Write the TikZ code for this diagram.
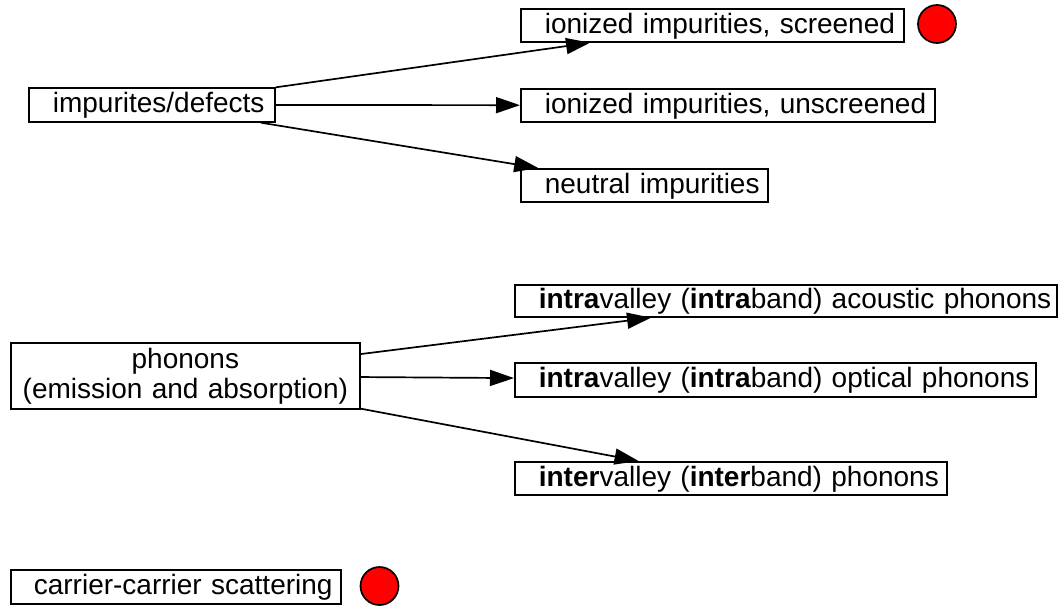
\documentclass[tikz,border=0pt]{standalone}
\usepackage{fontspec}
\setmainfont{Liberation Sans}
\usetikzlibrary{arrows.meta}
\begin{document}
\begin{tikzpicture}[x=1pt,y=-1pt,
  every node/.style={font=\fontsize{28}{30}\selectfont},
  frame/.style={draw, line width=1.7pt, inner sep=0pt, anchor=north west},
  onerow/.style={frame, align=left, text height=20pt, text depth=4pt,
    minimum width=#1, text width=#1, minimum height=33pt},
  flow/.style={line width=1.7pt, -{Triangle[length=24pt,width=16pt]}},
  marker/.style={circle, draw, line width=1.7pt, fill=red,
    minimum size=38pt, inner sep=0pt}]
\useasboundingbox (0,0) rectangle (1058,606);

% impurity scattering
\node[onerow=246pt, minimum height=34pt] (imp) at (28,87) {\hspace*{24pt}impurites/defects};
\node[onerow=383pt] (scr) at (520,8) {\hspace*{24pt}ionized impurities, screened};
\node[onerow=414pt] (uns) at (520,88) {\hspace*{24pt}ionized impurities, unscreened};
\node[onerow=247pt] (neu) at (520,168) {\hspace*{24pt}neutral impurities};
\node[marker] (dotscr) at (937,24) {};

\draw[flow] (imp) -- (scr);
\draw[flow] (imp) -- (uns);
\draw[flow] (imp) -- (neu);

% phonon scattering
\node[frame, align=center, text width=349pt, minimum width=349pt,
  minimum height=66pt] (pho) at (10,342) {phonons\\(emission and absorption)};
\node[onerow=542pt, minimum height=32pt] (aco) at (514,284)
  {\hspace*{24pt}\textbf{intra}valley (\textbf{intra}band) acoustic phonons};
\node[onerow=521pt, minimum height=34pt] (opt) at (514,362)
  {\hspace*{24pt}\textbf{intra}valley (\textbf{intra}band) optical phonons};
\node[onerow=432pt] (inv) at (514,461)
  {\hspace*{24pt}\textbf{inter}valley (\textbf{inter}band) phonons};

\draw[flow] (pho) -- (aco);
\draw[flow] (pho) -- (opt);
\draw[flow] (pho) -- (inv);

% carrier-carrier scattering
\node[onerow=330pt, minimum height=34pt] (car) at (10,569) {\hspace*{23pt}carrier-carrier scattering};
\node[marker] (dotcar) at (379.5,586) {};
\end{tikzpicture}
\end{document}
